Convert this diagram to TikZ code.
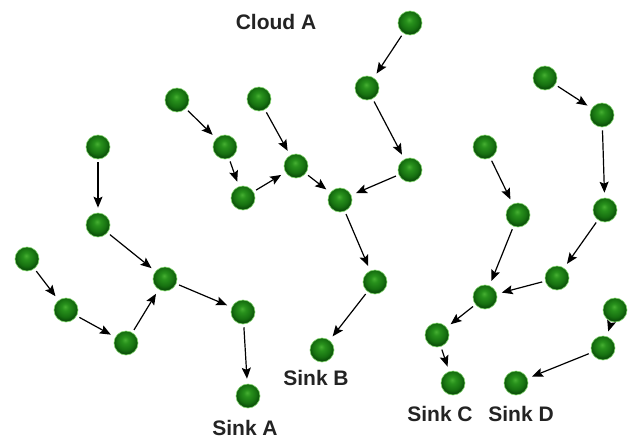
\documentclass[tikz,border=0pt]{standalone}
\usepackage{fontspec}
\setmainfont{Liberation Sans}
\usetikzlibrary{arrows.meta}
\definecolor{gA}{RGB}{70,175,50}
\definecolor{gB}{RGB}{40,145,28}
\definecolor{gC}{RGB}{22,112,16}
\definecolor{gD}{RGB}{12,80,10}
\definecolor{halo}{RGB}{130,215,110}
\definecolor{txt}{RGB}{35,35,35}
\pgfdeclareradialshading{gball}{\pgfqpoint{-2bp}{7bp}}{color(0bp)=(gA); color(7bp)=(gB); color(19bp)=(gC); color(25bp)=(gD); color(50bp)=(gD)}
\tikzset{
  mote/.style={circle, minimum size=24pt, inner sep=0pt, shading=gball, draw=halo, line width=0.6pt},
  link/.style={line width=1.2pt, black, -{Stealth[length=11pt,width=9pt,inset=2pt]}, shorten >=5pt, shorten <=3pt},
  lbl/.style={font=\bfseries\fontsize{21}{24}\selectfont, text=txt, inner sep=0pt}
}
\begin{document}
\begin{tikzpicture}[x=1pt,y=-1pt]
\useasboundingbox (0,0) rectangle (629,439);
% left tree (Sink A)
\node[mote] (n1) at (98,147) {};
\node[mote] (n2) at (98,225) {};
\node[mote] (n3) at (27,259) {};
\node[mote] (n4) at (66,310) {};
\node[mote] (n5) at (126,343) {};
\node[mote] (n6) at (165,279) {};
\node[mote] (n7) at (243,312) {};
\node[mote] (sA) at (248,396) {};
% middle tree (Sink B)
\node[mote] (m1) at (177,100) {};
\node[mote] (m2) at (225,147) {};
\node[mote] (m3) at (243,198) {};
\node[mote] (m4) at (259,99) {};
\node[mote] (m5) at (296,166) {};
\node[mote] (m6) at (340,200) {};
\node[mote] (p1) at (410,23) {};
\node[mote] (p2) at (367,88) {};
\node[mote] (p3) at (410,170) {};
\node[mote] (s1) at (375,282) {};
\node[mote] (sB) at (322,350) {};
% right tree (Sink C)
\node[mote] (q1) at (545,78) {};
\node[mote] (q2) at (602,115) {};
\node[mote] (q3) at (605,210) {};
\node[mote] (q4) at (557,278) {};
\node[mote] (r1) at (485,147) {};
\node[mote] (r2) at (518,215) {};
\node[mote] (t1) at (485,297) {};
\node[mote] (t2) at (437,335) {};
\node[mote] (sC) at (453,383) {};
% Sink D
\node[mote] (u1) at (615,310) {};
\node[mote] (u2) at (603,348) {};
\node[mote] (sD) at (516,383) {};
% edges
\draw[link] (n1) -- (n2);
\draw[link] (n2) -- (n6);
\draw[link] (n3) -- (n4);
\draw[link] (n4) -- (n5);
\draw[link] (n5) -- (n6);
\draw[link] (n6) -- (n7);
\draw[link] (n7) -- (sA);
\draw[link] (m1) -- (m2);
\draw[link] (m2) -- (m3);
\draw[link] (m3) -- (m5);
\draw[link] (m4) -- (m5);
\draw[link] (m5) -- (m6);
\draw[link] (p1) -- (p2);
\draw[link] (p2) -- (p3);
\draw[link] (p3) -- (m6);
\draw[link] (m6) -- (s1);
\draw[link] (s1) -- (sB);
\draw[link] (q1) -- (q2);
\draw[link] (q2) -- (q3);
\draw[link] (q3) -- (q4);
\draw[link] (q4) -- (t1);
\draw[link] (r1) -- (r2);
\draw[link] (r2) -- (t1);
\draw[link] (t1) -- (t2);
\draw[link] (t2) -- (sC);
\draw[link] (u1) -- (u2);
\draw[link] (u2) -- (sD);
% labels
\node[lbl] (cloud) at (276,22) {Cloud A};
\node[lbl] (lA) at (245,428) {Sink A};
\node[lbl] (lB) at (316,378) {Sink B};
\node[lbl] (lC) at (440,414) {Sink C};
\node[lbl] (lD) at (521,414) {Sink D};
\end{tikzpicture}
\end{document}
